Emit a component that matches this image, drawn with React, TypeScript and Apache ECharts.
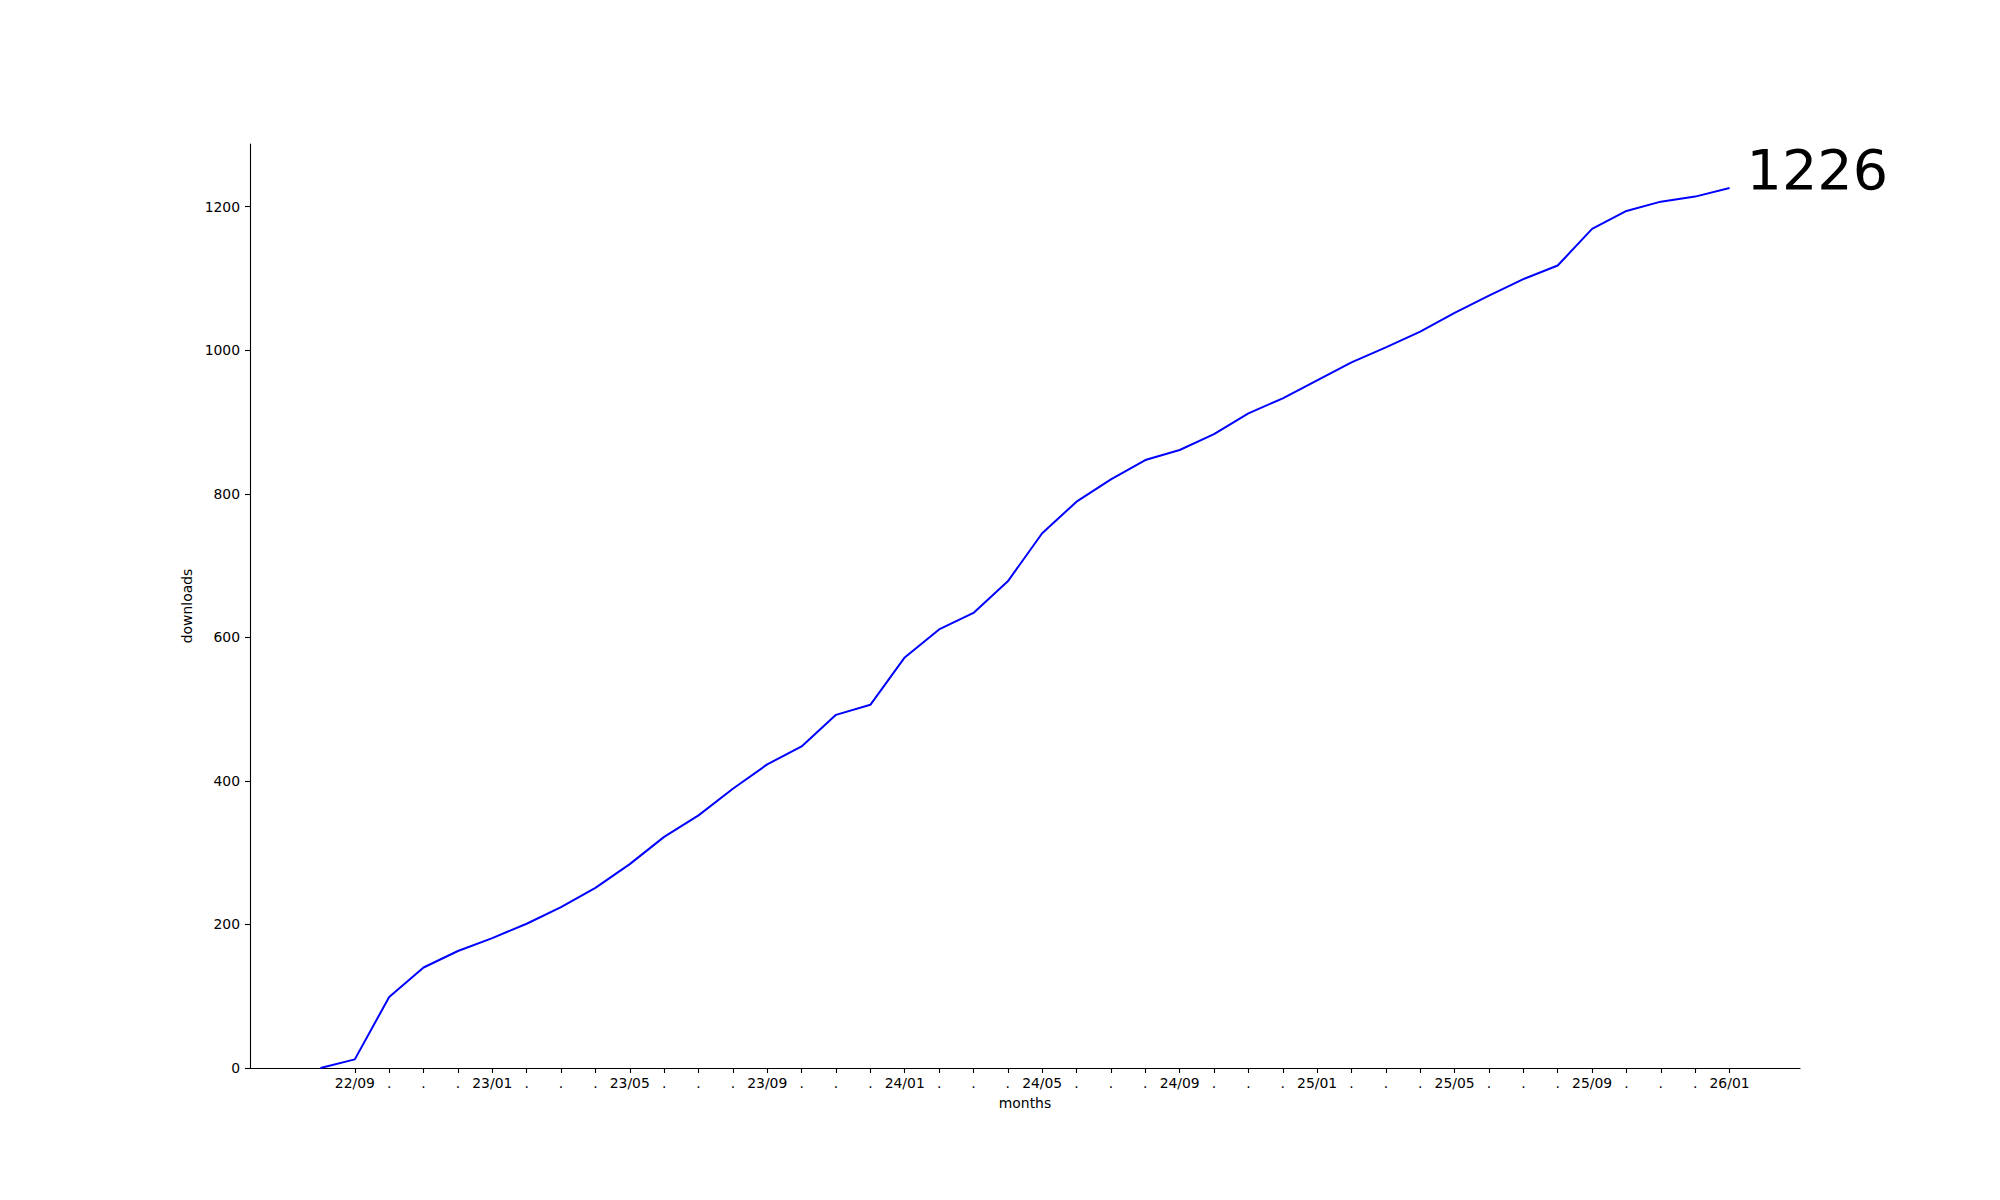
import React, { useEffect, useRef } from "react";
import * as echarts from "echarts";

const months: string[] = [
  "22/08", "22/09", "22/10", "22/11", "22/12",
  "23/01", "23/02", "23/03", "23/04", "23/05", "23/06", "23/07", "23/08", "23/09", "23/10", "23/11", "23/12",
  "24/01", "24/02", "24/03", "24/04", "24/05", "24/06", "24/07", "24/08", "24/09", "24/10", "24/11", "24/12",
  "25/01", "25/02", "25/03", "25/04", "25/05", "25/06", "25/07", "25/08", "25/09", "25/10", "25/11", "25/12",
  "26/01",
];

const downloads: number[] = [
  0, 12, 99, 140, 163, 181, 201, 224, 251, 284, 322, 352, 389, 423, 448, 492, 506,
  572, 611, 634, 678, 745, 789, 820, 847, 861, 883, 912, 933,
  958, 983, 1004, 1026, 1052, 1076, 1099, 1118, 1169, 1194, 1207, 1214,
  1226,
];

const yTicks: number[] = [0, 200, 400, 600, 800, 1000, 1200];
const xTickStart = 1; // ticks from 22/09
const labelEvery = 4;

const FONT = "DejaVu Sans";

export default function App() {
  const ref = useRef<HTMLDivElement>(null);
  useEffect(() => {
    if (!ref.current) return;
    const chart = echarts.init(ref.current, undefined, { renderer: "svg" });
    const n = downloads.length;
    const xTicks: number[] = [];
    for (let i = xTickStart; i < n; i++) xTicks.push(i);
    const xMin = -0.05 * (n - 1);
    const xMax = (n - 1) * 1.05;
    const yMax = downloads[n - 1] * 1.05;
    chart.setOption({
      animation: false,
      backgroundColor: "#ffffff",
      grid: { left: 250, right: 200, top: 144, bottom: 132, containLabel: false },
      xAxis: {
        type: "value",
        min: xMin,
        max: xMax,
        name: "months",
        nameLocation: "middle",
        nameGap: 28,
        nameTextStyle: { fontFamily: FONT, fontSize: 13.9, color: "#000" },
        splitLine: { show: false },
        axisLine: { show: true, onZero: false, lineStyle: { color: "#000", width: 1.1 } },
        axisTick: { show: true, length: 5, lineStyle: { color: "#000", width: 1.1 }, customValues: xTicks },
        axisLabel: {
          fontFamily: FONT,
          fontSize: 13.9,
          color: "#000",
          margin: 8,
          customValues: xTicks,
          formatter: (v: number) => {
            const i = Math.round(v);
            return (i - xTickStart) % labelEvery === 0 ? months[i] : ".";
          },
        },
      },
      yAxis: {
        type: "value",
        min: 0,
        max: yMax,
        name: "downloads",
        nameLocation: "middle",
        nameGap: 46,
        nameRotate: 90,
        nameTextStyle: { fontFamily: FONT, fontSize: 13.9, color: "#000" },
        splitLine: { show: false },
        axisLine: { show: true, onZero: false, lineStyle: { color: "#000", width: 1.1 } },
        axisTick: { show: true, length: 5, lineStyle: { color: "#000", width: 1.1 }, customValues: yTicks },
        axisLabel: {
          fontFamily: FONT,
          fontSize: 13.9,
          color: "#000",
          margin: 10,
          customValues: yTicks,
          formatter: (v: number) => String(v),
        },
      },
      series: [
        {
          type: "line",
          data: downloads.map((v, i) => [i, v]),
          showSymbol: false,
          symbol: "none",
          lineStyle: { color: "#0000ff", width: 2 },
          itemStyle: { color: "#0000ff" },
          endLabel: {
            show: true,
            formatter: (p: any) => String(p.value[1]),
            fontFamily: FONT,
            fontSize: 55.6,
            color: "#000",
            distance: 0,
            offset: [17, -19],
          },
        },
      ],
    });
    return () => chart.dispose();
  }, []);
  return (
    <div
      ref={ref}
      style={{ position: "fixed", left: 0, top: 0, width: 2000, height: 1200, background: "#fff" }}
    />
  );
}
